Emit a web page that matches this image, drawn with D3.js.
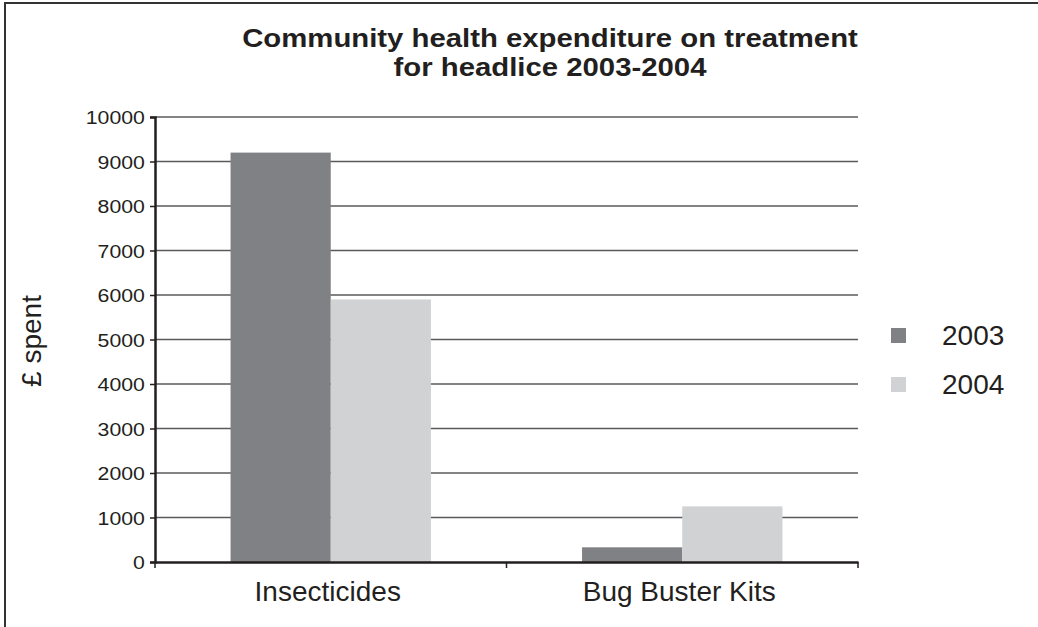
<!DOCTYPE html>
<html>
<head>
<meta charset="utf-8">
<script src="https://cdn.jsdelivr.net/npm/d3@7"></script>
<style>
  body { margin: 0; background: #fff; }
  text { font-family: "Liberation Sans", Arial, sans-serif; fill: #231f20; }
</style>
</head>
<body>
<div id="chart"></div>
<script>
var categories = ["Insecticides", "Bug Buster Kits"];
var years = ["2003", "2004"];
var spent2003 = [9200, 330];
var spent2004 = [5900, 1250];
var yTicks = [0, 1000, 2000, 3000, 4000, 5000, 6000, 7000, 8000, 9000, 10000];
var titleLines = ["Community health expenditure on treatment", "for headlice 2003-2004"];
var yLabel = "£ spent";

var width = 1038,
    height = 627,
    margin = { left: 155, right: 180, top: 117, bottom: 65 },
    colors = ["#808184", "#d1d2d4"];

var rows = categories.map(function(c, i) {
    return { cat: c, values: [spent2003[i], spent2004[i]] };
});

var svg = d3.select("#chart").append("svg")
    .attr("width", width)
    .attr("height", height);

// frame (only top/left edges show in the picture)
svg.append("rect")
    .attr("x", 5).attr("y", 3)
    .attr("width", width + 10).attr("height", height + 10)
    .attr("fill", "none").attr("stroke", "#333").attr("stroke-width", 2);

var x0 = d3.scaleBand()
    .domain(categories)
    .range([margin.left, width - margin.right]);

var x1 = d3.scaleBand()
    .domain(years)
    .range([0, x0.bandwidth()])
    .paddingOuter(0.754);

var y = d3.scaleLinear()
    .domain([0, 10000])
    .range([height - margin.bottom, margin.top]);

// gridlines
svg.append("g").selectAll("line")
    .data(yTicks.slice(1))
    .enter().append("line")
    .attr("x1", margin.left).attr("x2", width - margin.right)
    .attr("y1", function(d) { return y(d); })
    .attr("y2", function(d) { return y(d); })
    .attr("stroke", "#5a5a5c").attr("stroke-width", 1.6);

// bars
var groups = svg.append("g").selectAll("g")
    .data(rows)
    .enter().append("g")
    .attr("transform", function(d) { return "translate(" + x0(d.cat) + ",0)"; });

groups.selectAll("rect")
    .data(function(d) { return d.values.map(function(v, i) { return { year: years[i], v: v, i: i }; }); })
    .enter().append("rect")
    .attr("x", function(d) { return x1(d.year); })
    .attr("width", x1.bandwidth())
    .attr("y", function(d) { return y(d.v); })
    .attr("height", function(d) { return y(0) - y(d.v); })
    .attr("fill", function(d) { return colors[d.i]; });

// y axis
var yAxis = svg.append("g")
    .attr("transform", "translate(" + margin.left + ",0)")
    .call(d3.axisLeft(y).tickValues(yTicks).tickSize(5).tickPadding(4).tickFormat(d3.format("d")));
yAxis.select(".domain").attr("stroke", "#231f20").attr("stroke-width", 2.5);
yAxis.selectAll(".tick line").attr("stroke", "#231f20").attr("stroke-width", 1.5);
yAxis.selectAll(".tick text")
    .style("font-size", "19px")
    .attr("fill", "#231f20")
    .attr("dy", "0.36em")
    .attr("transform", function() { return "translate(-9,0) scale(1.12,1)"; })
    .attr("x", -1);

// x axis
var xAxis = svg.append("g")
    .attr("transform", "translate(0," + y(0) + ")")
    .call(d3.axisBottom(x0).tickSize(0).tickPadding(0).tickFormat(""));
xAxis.select(".domain").attr("stroke", "#231f20").attr("stroke-width", 2.5);
xAxis.selectAll(".tick").remove();

svg.append("g").selectAll("line")
    .data(x0.range().concat([x0(categories[1])]))
    .enter().append("line")
    .attr("x1", function(d) { return d; }).attr("x2", function(d) { return d; })
    .attr("y1", y(0)).attr("y2", y(0) + 6)
    .attr("stroke", "#231f20").attr("stroke-width", 1.5);

svg.append("g").selectAll("text")
    .data(categories)
    .enter().append("text")
    .attr("x", function(d) { return x0(d) + x0.bandwidth() / 2 - 3; })
    .attr("y", 601)
    .attr("text-anchor", "middle")
    .style("font-size", "28px")
    .text(function(d) { return d; });

// y label
svg.append("text")
    .attr("transform", "translate(41," + 341 + ") rotate(-90)")
    .attr("text-anchor", "middle")
    .style("font-size", "28px")
    .text(yLabel);

// title
svg.append("g").selectAll("text")
    .data(titleLines)
    .enter().append("text")
    .attr("transform", function(d, i) { return "translate(550," + (47 + i * 29) + ") scale(1.15,1)"; })
    .attr("text-anchor", "middle")
    .style("font-size", "25.5px")
    .style("font-weight", "bold")
    .text(function(d) { return d; });

// legend
var legend = svg.append("g").selectAll("g")
    .data(years)
    .enter().append("g")
    .attr("transform", function(d, i) { return "translate(891," + (328 + i * 49) + ")"; });
legend.append("rect")
    .attr("width", 15).attr("height", 15)
    .attr("fill", function(d, i) { return colors[i]; });
legend.append("text")
    .attr("x", 51).attr("y", 17)
    .style("font-size", "28px")
    .text(function(d) { return d; });
</script>
</body>
</html>
